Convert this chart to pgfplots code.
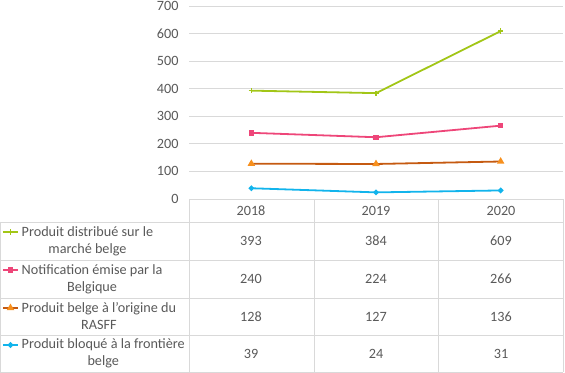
\documentclass[border=0pt]{standalone}
\usepackage{pgfplots}
\pgfplotsset{compat=1.18}
\usepackage{fontspec}
\setmainfont{Carlito}
\definecolor{txt}{HTML}{595959}
\definecolor{gridc}{HTML}{D9D9D9}
\definecolor{cgreen}{HTML}{A2C617}
\definecolor{cpink}{HTML}{EE4679}
\definecolor{corange}{HTML}{C55A11}
\definecolor{corangem}{HTML}{F7901E}
\definecolor{cblue}{HTML}{12B4EC}
\begin{document}
\begin{tikzpicture}
\path[use as bounding box] (0,0) rectangle (565bp,373bp);
\begin{axis}[
  at={(189bp,174bp)}, anchor=south west,
  scale only axis, width=374bp, height=193bp,
  xmin=-0.5, xmax=2.5, ymin=0, ymax=700,
  axis line style={draw=none}, tick style={draw=none},
  xtick=\empty, ytick={0,100,...,700},
  ymajorgrids, grid style={gridc, line width=0.75bp},
  yticklabel style={font=\fontsize{14.2bp}{17bp}\selectfont, text=txt, xshift=-7bp},
  /pgf/number format/assume math mode=true,
  clip=false,
]
\addplot[cgreen, line width=1.8bp, mark=+, mark size=2.6bp, mark options={line width=1.5bp}] coordinates {(0,393) (1,384) (2,609)};
\addplot[cpink, line width=1.8bp, mark=square*, mark size=1.8bp] coordinates {(0,240) (1,224) (2,266)};
\addplot[corange, line width=1.8bp, mark=triangle*, mark size=2.6bp, mark options={fill=corangem, draw=corangem}] coordinates {(0,128) (1,127) (2,136)};
\addplot[cblue, line width=1.8bp, mark=*, mark size=1.8bp] coordinates {(0,39) (1,24) (2,31)};
% legend keys in the table
\addplot[cgreen, line width=1.8bp, mark=+, mark size=2.6bp, mark indices={2}, mark options={line width=1.5bp}] coordinates {(-1.992,-119.7) (-1.932,-119.7) (-1.872,-119.7)};
\addplot[cpink, line width=1.8bp, mark=square*, mark size=1.8bp, mark indices={2}] coordinates {(-1.992,-257.5) (-1.932,-257.5) (-1.872,-257.5)};
\addplot[corange, line width=1.8bp, mark=triangle*, mark size=2.6bp, mark indices={2}, mark options={fill=corangem, draw=corangem}] coordinates {(-1.992,-395.3) (-1.932,-395.3) (-1.872,-395.3)};
\addplot[cblue, line width=1.8bp, mark=*, mark size=1.8bp, mark indices={2}] coordinates {(-1.992,-529.5) (-1.932,-529.5) (-1.872,-529.5)};
\end{axis}
% table grid
\begin{scope}[gridc, line width=0.75bp]
\foreach \yy in {222,260,298,335,372} {\draw (0bp,373bp-\yy bp) -- (563bp,373bp-\yy bp);}
\draw (0bp,373bp-222bp) -- (0bp,373bp-372bp);
\foreach \xx in {189,314,438,563} {\draw (\xx bp,373bp-199bp) -- (\xx bp,373bp-372bp);}
\end{scope}
\begin{scope}[every node/.style={text=txt, font=\fontsize{14.2bp}{17bp}\selectfont, inner sep=0pt}]
\node at (251bp,373bp-210.5bp) {2018};
\node at (376bp,373bp-210.5bp) {2019};
\node at (501bp,373bp-210.5bp) {2020};
\node at (251bp,373bp-241bp) {393};
\node at (376bp,373bp-241bp) {384};
\node at (501bp,373bp-241bp) {609};
\node at (251bp,373bp-279bp) {240};
\node at (376bp,373bp-279bp) {224};
\node at (501bp,373bp-279bp) {266};
\node at (251bp,373bp-316.5bp) {128};
\node at (376bp,373bp-316.5bp) {127};
\node at (501bp,373bp-316.5bp) {136};
\node at (251bp,373bp-353.5bp) {39};
\node at (376bp,373bp-353.5bp) {24};
\node at (501bp,373bp-353.5bp) {31};
\node[anchor=west, align=center] at (21.5bp,373bp-241bp) {Produit distribué sur le\\marché belge};
\node[anchor=west, align=center] at (21.5bp,373bp-279bp) {Notification émise par la\\Belgique};
\node[anchor=west, align=center] at (21.5bp,373bp-316.5bp) {Produit belge à l'origine du\\RASFF};
\node[anchor=west, align=center] at (21.5bp,373bp-353.5bp) {Produit bloqué à la frontière\\belge};
\end{scope}
\end{tikzpicture}
\end{document}
